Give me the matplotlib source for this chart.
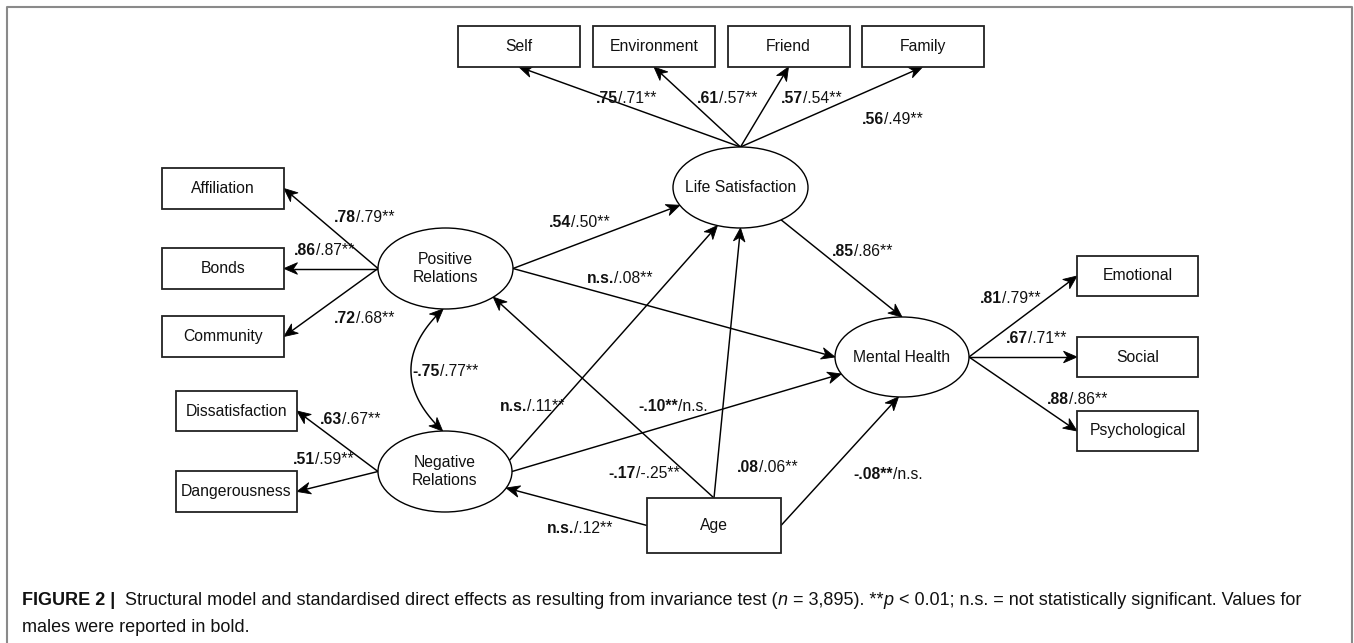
import matplotlib
matplotlib.use("Agg")
import matplotlib.pyplot as plt
import numpy as np
from matplotlib.patches import Ellipse, Rectangle, Polygon

plt.rcParams['font.family'] = ['Liberation Sans', 'DejaVu Sans']

# ---------------- data ----------------
latent_names = ["Life Satisfaction", "Positive Relations", "Negative Relations", "Mental Health"]
latent_labels = ["Life Satisfaction", "Positive\nRelations", "Negative\nRelations", "Mental Health"]
indicator_names = ["Self", "Environment", "Friend", "Family", "Affiliation", "Bonds", "Community",
                   "Dissatisfaction", "Dangerousness", "Emotional", "Social", "Psychological"]
covariate_names = ["Age"]

# measurement paths: male value (bold) / female value
loading_src = ["Life Satisfaction"] * 4 + ["Positive Relations"] * 3 + ["Negative Relations"] * 2 + ["Mental Health"] * 3
loading_dst = ["Self", "Environment", "Friend", "Family", "Affiliation", "Bonds", "Community",
               "Dissatisfaction", "Dangerousness", "Emotional", "Social", "Psychological"]
loading_male = [".75", ".61", ".57", ".56", ".78", ".86", ".72", ".63", ".51", ".81", ".67", ".88"]
loading_female = ["/.71**", "/.57**", "/.54**", "/.49**", "/.79**", "/.87**", "/.68**",
                  "/.67**", "/.59**", "/.79**", "/.71**", "/.86**"]

# structural paths
path_src = ["Positive Relations", "Positive Relations", "Life Satisfaction", "Negative Relations",
            "Negative Relations", "Age", "Age", "Age", "Age"]
path_dst = ["Life Satisfaction", "Mental Health", "Mental Health", "Life Satisfaction",
            "Mental Health", "Negative Relations", "Positive Relations", "Life Satisfaction", "Mental Health"]
path_male = [".54", "n.s.", ".85", "n.s.", "-.10**", "n.s.", "-.17", ".08", "-.08**"]
path_female = ["/.50**", "/.08**", "/.86**", "/.11**", "/n.s.", "/.12**", "/-.25**", "/.06**", "/n.s."]

# covariance between the two relation factors
cov_pair = ["Positive Relations", "Negative Relations"]
cov_male = "-.75"
cov_female = "/.77**"

caption_line1 = [("FIGURE 2 |", dict(weight='bold')),
                 ("  Structural model and standardised direct effects as resulting from invariance test (", {}),
                 ("n", dict(style='italic')),
                 (" = 3,895). **", {}),
                 ("p", dict(style='italic')),
                 (" < 0.01; n.s. = not statistically significant. Values for", {})]
caption_line2 = "males were reported in bold."

# ---------------- layout (pixel coordinates) ----------------
W, H = 1354, 643
geom = {
    "Self": ("box", 519, 46.5, 122, 41),
    "Environment": ("box", 654, 46.5, 122, 41),
    "Friend": ("box", 788.5, 46.5, 122, 41),
    "Family": ("box", 922.5, 46.5, 122, 41),
    "Affiliation": ("box", 223, 188.5, 122, 41),
    "Bonds": ("box", 223, 268.5, 122, 41),
    "Community": ("box", 223, 336.5, 122, 41),
    "Dissatisfaction": ("box", 236.5, 411, 121, 40),
    "Dangerousness": ("box", 236.5, 491.5, 121, 41),
    "Emotional": ("box", 1137.5, 276, 121, 40),
    "Social": ("box", 1137.5, 357, 121, 40),
    "Psychological": ("box", 1137.5, 431, 121, 40),
    "Age": ("box", 714, 525.5, 134, 55),
    "Life Satisfaction": ("ell", 740.5, 187.5, 135, 81),
    "Positive Relations": ("ell", 445.5, 268.5, 135, 81),
    "Negative Relations": ("ell", 445, 471.5, 134, 81),
    "Mental Health": ("ell", 902, 357, 134, 80),
}

loading_anchor = {"Life Satisfaction": (("E", 90), ("B", "bottom")),
                  "Positive Relations": (("E", 180), ("B", "right")),
                  "Negative Relations": (("E", 180), ("B", "right")),
                  "Mental Health": (("E", 0), ("B", "left"))}
loading_label_pos = [(626, 97), (727, 97), (811, 97), (892, 118),
                     (364, 216), (324, 249), (364, 317),
                     (350, 418), (323, 458),
                     (1010, 297), (1036, 337), (1077, 398)]

path_anchor = [(("E", 0), ("E", -154)),
               (("E", 0), ("E", 180)),
               (("E", -53), ("E", 90)),
               (("E", 16), ("E", -110)),
               (("E", 0), ("E", -155)),
               (("B", "left"), ("E", -24)),
               (("B", "top"), ("E", -45)),
               (("B", "top"), ("E", -90)),
               (("B", "right"), ("E", -93))]
path_label_pos = [(579, 221), (620, 277), (862, 250), (532, 405), (673, 405),
                  (580, 527), (644, 472), (767, 466), (888, 473)]
cov_label_pos = (445, 370)

FS = 11.3
fig = plt.figure(figsize=(W / 100, H / 100), dpi=100)
ax = fig.add_axes([0, 0, 1, 1])
ax.set_xlim(0, W)
ax.set_ylim(H, 0)
ax.axis('off')


def anchor(name, spec):
    kind, cx, cy, w, h = geom[name]
    if spec[0] == "E":
        a = np.deg2rad(spec[1])
        return np.array([cx + w / 2 * np.cos(a), cy - h / 2 * np.sin(a)])
    side = spec[1]
    return np.array({"top": (cx, cy - h / 2), "bottom": (cx, cy + h / 2),
                     "left": (cx - w / 2, cy), "right": (cx + w / 2, cy)}[side])


def head(tip, d, L=13.5, hw=5.8, notch=4.0):
    d = d / np.linalg.norm(d)
    n = np.array([-d[1], d[0]])
    base = tip - d * L
    pn = tip - d * (L - notch)
    ax.add_patch(Polygon([tip, base + n * hw, pn, base - n * hw], closed=True,
                         fc='black', ec='black', lw=0.6, zorder=3))
    return pn


def arrow(p0, p1):
    pn = head(p1, p1 - p0)
    ax.plot([p0[0], pn[0]], [p0[1], pn[1]], color='black', lw=1.05,
            solid_capstyle='butt', zorder=2)


def rich(x, y, parts, size=FS, ha='center', va='center_baseline', gap=0.0):
    r = fig.canvas.get_renderer()
    texts = [ax.text(0, y, s, fontsize=size, ha='left', va=va, color='#111111', **kw)
             for s, kw in parts]
    widths = [t.get_window_extent(r).width for t in texts]
    total = sum(widths) + gap * (len(texts) - 1)
    x0 = x - total / 2 if ha == 'center' else x
    for t, w in zip(texts, widths):
        t.set_x(x0)
        x0 += w + gap


# frame
ax.plot([7, 7, 1352, 1352], [H + 5, 7, 7, H + 5], color='#8a8a8a', lw=1.5, zorder=1)

# nodes
for name in indicator_names + covariate_names:
    _, cx, cy, w, h = geom[name]
    ax.add_patch(Rectangle((cx - w / 2, cy - h / 2), w, h, fc='white', ec='#222222', lw=1.3, zorder=4))
    ax.text(cx, cy, name, fontsize=FS, ha='center', va='center', color='#111111', zorder=5)

for name, lab in zip(latent_names, latent_labels):
    _, cx, cy, w, h = geom[name]
    ax.add_patch(Ellipse((cx, cy), w, h, fc='white', ec='black', lw=1.0, zorder=4))
    lines = lab.split("\n")
    if len(lines) == 1:
        ax.text(cx, cy, lab, fontsize=FS, ha='center', va='center', color='#111111', zorder=5)
    else:
        for k, ln in enumerate(lines):
            ax.text(cx, cy + (k - 0.5) * 18, ln, fontsize=FS, ha='center', va='center',
                    color='#111111', zorder=5)

# loadings
for s, d, m, f, pos in zip(loading_src, loading_dst, loading_male, loading_female, loading_label_pos):
    a0, a1 = loading_anchor[s]
    arrow(anchor(s, a0), anchor(d, a1))
    rich(pos[0], pos[1], [(m, dict(weight='bold')), (f, {})])

# structural paths
for s, d, (a0, a1), m, f, pos in zip(path_src, path_dst, path_anchor, path_male, path_female, path_label_pos):
    arrow(anchor(s, a0), anchor(d, a1))
    rich(pos[0], pos[1], [(m, dict(weight='bold')), (f, {})])

# covariance (curved, double-headed)
p0 = anchor(cov_pair[0], ("E", -92))
p2 = anchor(cov_pair[1], ("E", 92))
c = np.array([379.0, (p0[1] + p2[1]) / 2])
n0 = head(p0, p0 - c)
n2 = head(p2, p2 - c)
tt = np.linspace(0.07, 0.93, 80)
curve = ((1 - tt)[:, None] ** 2) * p0 + (2 * (1 - tt) * tt)[:, None] * c + (tt[:, None] ** 2) * p2
curve = np.vstack([n0, curve, n2])
ax.plot(curve[:, 0], curve[:, 1], color='black', lw=1.05, zorder=2)
rich(cov_label_pos[0], cov_label_pos[1], [(cov_male, dict(weight='bold')), (cov_female, {})])

# caption
CAP = 13.0
rich(22, 605, caption_line1, size=CAP, ha='left', va='baseline', gap=0.0)
ax.text(22, 632, caption_line2, fontsize=CAP, ha='left', va='baseline', color='#111111')

fig.savefig("out.png", dpi=100)
